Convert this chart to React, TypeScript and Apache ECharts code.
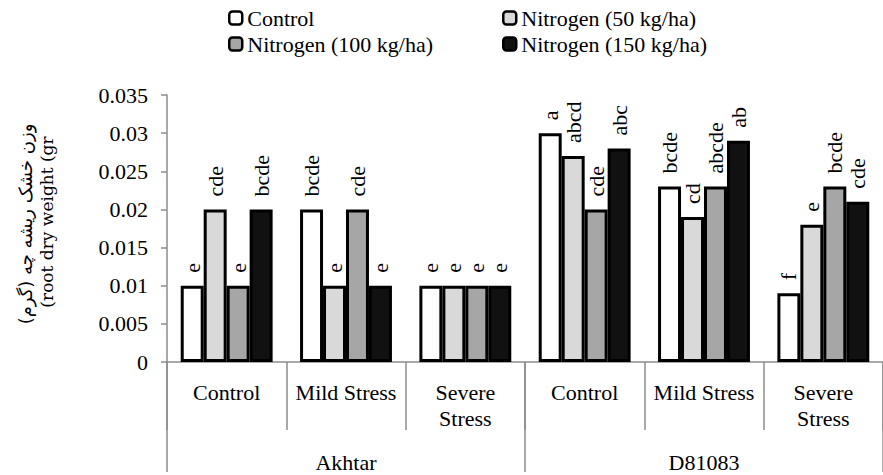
import React, { useEffect, useRef } from "react";
import * as echarts from "echarts";

const subCategories = ["Control", "Mild Stress", "Severe\nStress", "Control", "Mild Stress", "Severe\nStress"];
const cultivars = ["Akhtar", "D81083"];
const seriesNames = ["Control", "Nitrogen (50 kg/ha)", "Nitrogen (100 kg/ha)", "Nitrogen (150 kg/ha)"];
const controlValues = [0.01, 0.02, 0.01, 0.03, 0.023, 0.009];
const n50Values = [0.02, 0.01, 0.01, 0.027, 0.019, 0.018];
const n100Values = [0.01, 0.02, 0.01, 0.02, 0.023, 0.023];
const n150Values = [0.02, 0.01, 0.01, 0.028, 0.029, 0.021];
const controlLetters = ["e", "bcde", "e", "a", "bcde", "f"];
const n50Letters = ["cde", "e", "e", "abcd", "cd", "e"];
const n100Letters = ["e", "cde", "e", "cde", "abcde", "bcde"];
const n150Letters = ["bcde", "e", "e", "abc", "ab", "cde"];
const colors = ["#ffffff", "#d9d9d9", "#a6a6a6", "#111111"];
const yAxisNameFa = "وزن خشک ریشه چه (گرم)";
const yAxisNameEn = "(root dry weight (gr";

const SERIF = "'Liberation Serif', 'DejaVu Serif', serif";
const CATEGORY_GAP = 0.23;

export default function App() {
  const ref = useRef<HTMLDivElement>(null);
  useEffect(() => {
    if (!ref.current) return;
    const chart = echarts.init(ref.current, null, { renderer: "svg" });
    const values = [controlValues, n50Values, n100Values, n150Values];
    const letters = [controlLetters, n50Letters, n100Letters, n150Letters];
    const barSeries = seriesNames.map((name, i) => ({
      name,
      type: "bar",
      xAxisIndex: 0,
      barGap: "0%",
      barCategoryGap: CATEGORY_GAP * 100 + "%",
      data: values[i],
      itemStyle: { color: colors[i], borderColor: "#000", borderWidth: 3 },
    }));
    const legendCommon = {
      orient: "vertical",
      top: 7,
      itemGap: 4,
      itemWidth: 13,
      itemHeight: 13,
      itemTextGap: 4,
      padding: 0,
      textStyle: { fontSize: 22, fontFamily: SERIF, color: "#000" },
      itemStyle: { borderColor: "#000", borderWidth: 2.5 },
    };
    const nameGraphics: any[] = [
      {
        type: "text",
        x: 25,
        y: 224,
        rotation: Math.PI / 2,
        style: {
          text: yAxisNameFa,
          font: "18px 'DejaVu Sans', sans-serif",
          fill: "#000",
          textAlign: "center",
          textVerticalAlign: "middle",
        },
      },
      {
        type: "text",
        x: 47,
        y: 222,
        rotation: Math.PI / 2,
        style: {
          text: yAxisNameEn,
          font: "17px 'DejaVu Serif', serif",
          fill: "#000",
          textAlign: "center",
          textVerticalAlign: "middle",
        },
      },
    ];
    chart.setOption({
      animation: false,
      backgroundColor: "#fff",
      grid: { left: 167, right: -12, top: 95, bottom: 108, containLabel: false },
      legend: [
        { ...legendCommon, data: [seriesNames[0], seriesNames[2]], left: 228 },
        { ...legendCommon, data: [seriesNames[1], seriesNames[3]], left: 502 },
      ],
      xAxis: [
        {
          type: "category",
          data: subCategories,
          position: "bottom",
          axisLine: { lineStyle: { color: "#8c8c8c", width: 1.5 } },
          axisTick: { show: true, interval: 0, length: 68, lineStyle: { color: "#8c8c8c", width: 1.5 } },
          axisLabel: { interval: 0, margin: 17, fontSize: 22, lineHeight: 26, fontFamily: SERIF, color: "#000" },
        },
        {
          type: "category",
          data: cultivars,
          position: "bottom",
          axisLine: { show: false },
          axisTick: { show: true, interval: 0, length: 110, lineStyle: { color: "#8c8c8c", width: 1.5 } },
          axisLabel: { interval: 0, margin: 87, fontSize: 22, lineHeight: 26, fontFamily: SERIF, color: "#000" },
        },
      ],
      yAxis: {
        type: "value",
        min: 0,
        max: 0.035,
        interval: 0.005,
        splitLine: { show: false },
        axisLine: { show: true, lineStyle: { color: "#8c8c8c", width: 1.5 } },
        axisTick: { show: true, length: 6, lineStyle: { color: "#8c8c8c", width: 1.5 } },
        axisLabel: {
          margin: 19,
          fontSize: 22,
          fontFamily: SERIF,
          color: "#000",
          formatter: (v: number) => String(parseFloat(v.toFixed(3))),
        },
      },
      graphic: nameGraphics,
      series: barSeries,
    });

    // letters above the bars, placed through the chart's own scales
    const finder = { xAxisIndex: 0, yAxisIndex: 0 };
    const p0 = chart.convertToPixel(finder, [0, 0]) as number[];
    const p1 = chart.convertToPixel(finder, [1, 0]) as number[];
    const band = p1[0] - p0[0];
    const group = band * (1 - CATEGORY_GAP);
    const bw = group / 4;
    const letterGraphics: any[] = [];
    values.forEach((arr, t) =>
      arr.forEach((v, c) => {
        const pt = chart.convertToPixel(finder, [c, v]) as number[];
        letterGraphics.push({
          type: "text",
          x: pt[0] - group / 2 + bw * (t + 0.5),
          y: pt[1] - 13,
          rotation: Math.PI / 2,
          z: 100,
          style: {
            text: letters[t][c],
            font: "22px 'Liberation Serif', serif",
            fill: "#000",
            textAlign: "left",
            textVerticalAlign: "middle",
          },
        });
      })
    );
    chart.setOption({ graphic: [...nameGraphics, ...letterGraphics] });
    return () => chart.dispose();
  }, []);
  return <div ref={ref} style={{ width: 883, height: 475, position: "absolute", left: 0, top: 0 }} />;
}
